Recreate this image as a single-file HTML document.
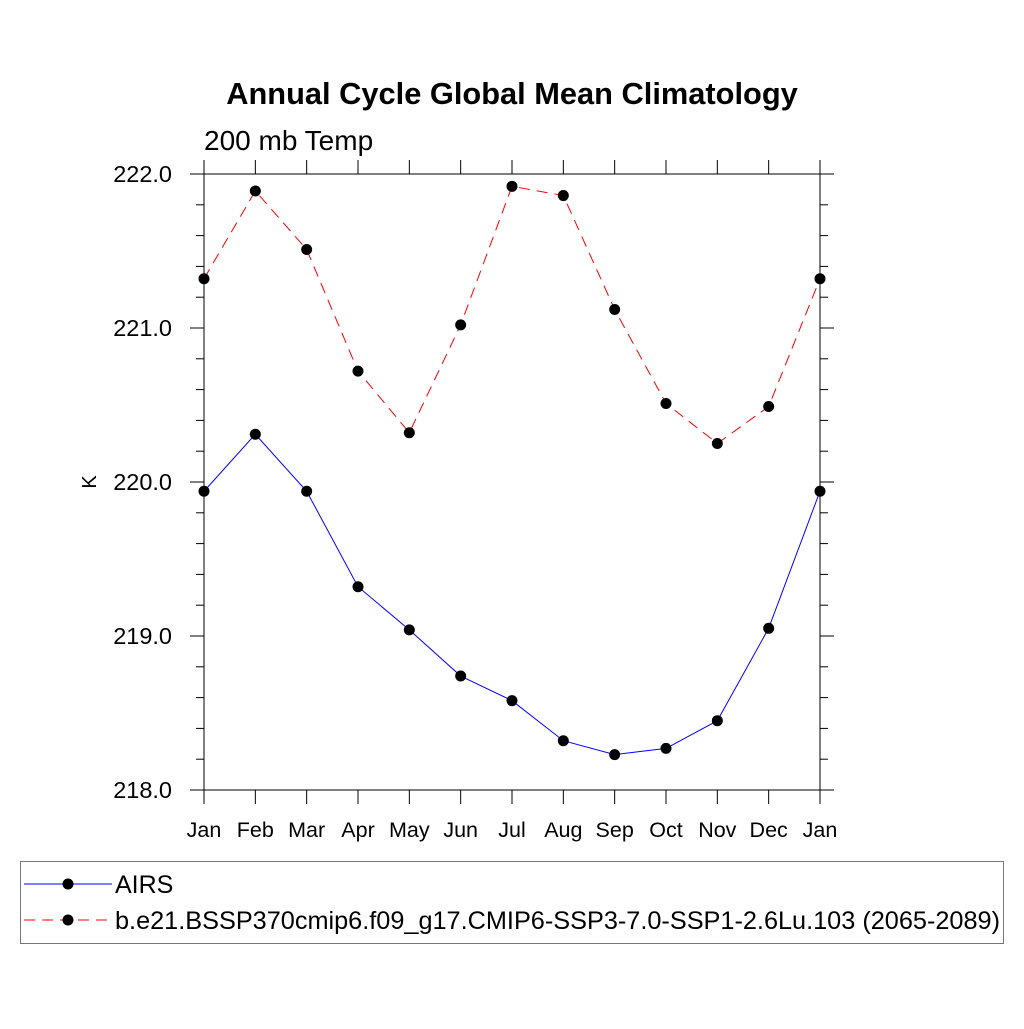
<!DOCTYPE html>
<html><head><meta charset="utf-8"><style>
body{margin:0;background:#fff}
svg text{font-family:"Liberation Sans",sans-serif}
</style></head><body>
<svg id="chart" width="1024" height="1024" xmlns="http://www.w3.org/2000/svg">
<rect width="1024" height="1024" fill="#fff"/>
<text x="512" y="104" font-size="30.8" font-weight="bold" text-anchor="middle">Annual Cycle Global Mean Climatology</text>
<text x="204" y="150" font-size="28">200 mb Temp</text>
<text x="96" y="482" font-size="20" text-anchor="middle" transform="rotate(-90 96 482)">K</text>
<g id="axes"></g>
<g id="series"></g>
<rect x="20.5" y="861.5" width="983" height="82" fill="none" stroke="#777" stroke-width="1"/>
<g>
<line x1="24" y1="884" x2="112" y2="884" stroke="#00f" stroke-width="1"/>
<circle cx="68" cy="884" r="5.5" fill="#000"/>
<text x="115" y="893" font-size="25">AIRS</text>
</g>
<g>
<line x1="24" y1="920" x2="112" y2="920" stroke="#f00" stroke-width="1" stroke-dasharray="11,7"/>
<circle cx="68" cy="920" r="5.5" fill="#000"/>
<text x="115" y="929" font-size="25" textLength="885" lengthAdjust="spacingAndGlyphs">b.e21.BSSP370cmip6.f09_g17.CMIP6-SSP3-7.0-SSP1-2.6Lu.103 (2065-2089)</text>
</g>
</svg>
<script>
const months = ["Jan","Feb","Mar","Apr","May","Jun","Jul","Aug","Sep","Oct","Nov","Dec","Jan"];
const airs = [219.94,220.31,219.94,219.32,219.04,218.74,218.58,218.32,218.23,218.27,218.45,219.05,219.94];
const model = [221.32,221.89,221.51,220.72,220.32,221.02,221.92,221.86,221.12,220.51,220.25,220.49,221.32];
const yTicks = [218.0,219.0,220.0,221.0,222.0];
const yMin = 218, yMax = 222;
const L=204,R=820,T=174,B=790;
const xs = i => L + (R-L)*i/(months.length-1);
const ys = v => B - (B-T)*(v-yMin)/(yMax-yMin);
const NS="http://www.w3.org/2000/svg";
const axes=document.getElementById('axes'), ser=document.getElementById('series');
function mk(tag,attrs,parent){const e=document.createElementNS(NS,tag);for(const k in attrs)e.setAttribute(k,attrs[k]);parent.appendChild(e);return e;}
const fr=mk('rect',{x:L,y:T,width:R-L,height:B-T,fill:'none',stroke:'#000','stroke-width':1},axes);


months.forEach((m,i)=>{
  const x=xs(i);
  mk('line',{x1:x,y1:B,x2:x,y2:B+14,stroke:'#000'},axes);
  mk('line',{x1:x,y1:T,x2:x,y2:T-14,stroke:'#000'},axes);
  const t=mk('text',{x:x,y:837,'font-size':21.5,'text-anchor':'middle'},axes);
  t.textContent=m;
  
  
});
for(let v=yMin; v<=yMax+1e-6; v+=0.2){
  const y=ys(v);
  mk('line',{x1:L,y1:y,x2:L-8,y2:y,stroke:'#000'},axes);
  mk('line',{x1:R,y1:y,x2:R+8,y2:y,stroke:'#000'},axes);
}
yTicks.forEach(v=>{
  const y=ys(v);
  mk('line',{x1:L,y1:y,x2:L-14,y2:y,stroke:'#000'},axes);
  mk('line',{x1:R,y1:y,x2:R+14,y2:y,stroke:'#000'},axes);
  const t=mk('text',{x:172,y:y+8,'font-size':23.5,'text-anchor':'end'},axes);
  t.textContent=v.toFixed(1);
  
  
});
function series(vals,color,dash,name){
  const p=mk('polyline',{points:vals.map((v,i)=>xs(i)+','+ys(v)).join(' '),fill:'none',stroke:color,'stroke-width':1},ser);
  if(dash)p.setAttribute('stroke-dasharray',dash);
  
  
  vals.forEach((v,i)=>{
    const c=mk('circle',{cx:xs(i),cy:ys(v),r:5.5,fill:'#000'},ser);
    
    
  });
}
series(airs,'#00f',null,'airs');
series(model,'#f00','11,7','model');
</script>
</body></html>
